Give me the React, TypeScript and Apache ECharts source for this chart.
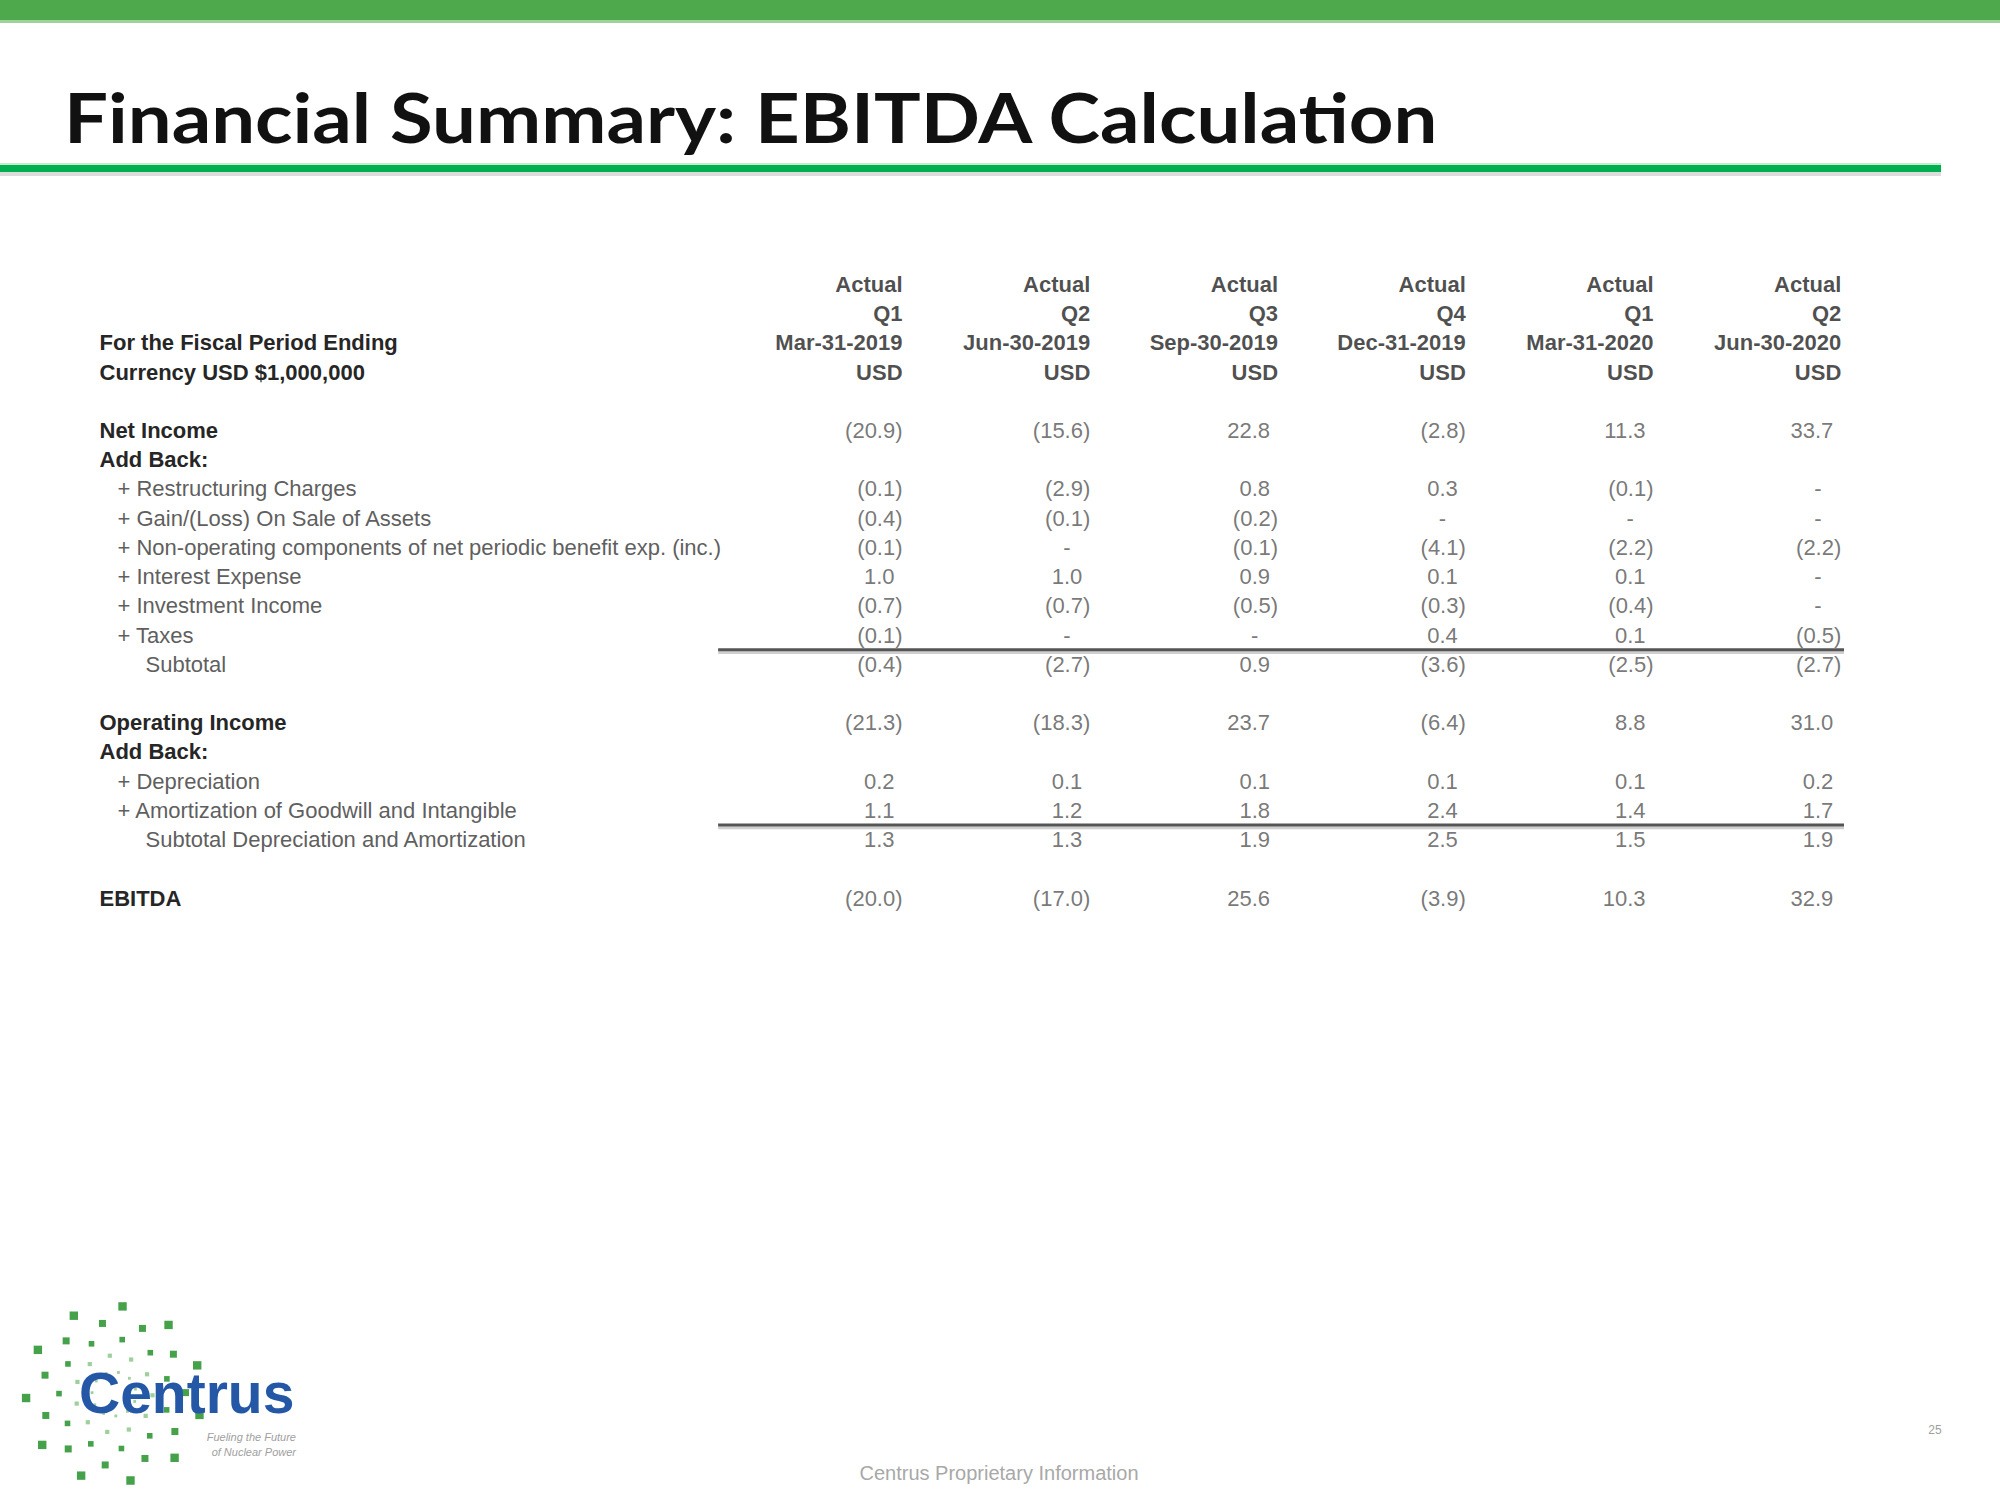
import React, { useEffect, useRef } from 'react';
import * as echarts from 'echarts';

// ---------- data ----------
const periodTypes = ['Actual', 'Actual', 'Actual', 'Actual', 'Actual', 'Actual'];
const quarters = ['Q1', 'Q2', 'Q3', 'Q4', 'Q1', 'Q2'];
const periodEndDates = ['Mar-31-2019', 'Jun-30-2019', 'Sep-30-2019', 'Dec-31-2019', 'Mar-31-2020', 'Jun-30-2020'];
const currencies = ['USD', 'USD', 'USD', 'USD', 'USD', 'USD'];

const rowLabels = [
  '', '', 'For the Fiscal Period Ending', 'Currency USD $1,000,000', '',
  'Net Income', 'Add Back:',
  '+ Restructuring Charges',
  '+ Gain/(Loss) On Sale of Assets',
  '+ Non-operating components of net periodic benefit exp. (inc.)',
  '+ Interest Expense',
  '+ Investment Income',
  '+ Taxes',
  'Subtotal', '',
  'Operating Income', 'Add Back:',
  '+ Depreciation',
  '+ Amortization of Goodwill and Intangible',
  'Subtotal Depreciation and Amortization', '',
  'EBITDA',
];
const rowKinds = ['', '', 'b', 'b', '', 'b', 'b', 'i', 'i', 'i', 'i', 'i', 'i', 's', '', 'b', 'b', 'i', 'i', 's', '', 'b'];

const netIncome = [-20.9, -15.6, 22.8, -2.8, 11.3, 33.7];
const restructuringCharges = [-0.1, -2.9, 0.8, 0.3, -0.1, null];
const gainLossOnSale = [-0.4, -0.1, -0.2, null, null, null];
const nonOperatingBenefit = [-0.1, null, -0.1, -4.1, -2.2, -2.2];
const interestExpense = [1.0, 1.0, 0.9, 0.1, 0.1, null];
const investmentIncome = [-0.7, -0.7, -0.5, -0.3, -0.4, null];
const taxes = [-0.1, null, null, 0.4, 0.1, -0.5];
const addBackSubtotal = [-0.4, -2.7, 0.9, -3.6, -2.5, -2.7];
const operatingIncome = [-21.3, -18.3, 23.7, -6.4, 8.8, 31.0];
const depreciation = [0.2, 0.1, 0.1, 0.1, 0.1, 0.2];
const amortization = [1.1, 1.2, 1.8, 2.4, 1.4, 1.7];
const subtotalDA = [1.3, 1.3, 1.9, 2.5, 1.5, 1.9];
const ebitda = [-20.0, -17.0, 25.6, -3.9, 10.3, 32.9];

const valueRows: [number, (number | null)[]][] = [
  [5, netIncome],
  [7, restructuringCharges],
  [8, gainLossOnSale],
  [9, nonOperatingBenefit],
  [10, interestExpense],
  [11, investmentIncome],
  [12, taxes],
  [13, addBackSubtotal],
  [15, operatingIncome],
  [17, depreciation],
  [18, amortization],
  [19, subtotalDA],
  [21, ebitda],
];
const headerRows: [number, string[]][] = [
  [0, periodTypes],
  [1, quarters],
  [2, periodEndDates],
  [3, currencies],
];
const ruleRows = [12.5, 18.5];

// ---------- styles ----------
const FONT = "'Liberation Sans', Arial, sans-serif";
const FS = 22;

function fmt(v: number | null): string {
  if (v === null) return '-';
  if (v < 0) return '(' + Math.abs(v).toFixed(1) + ')';
  return v.toFixed(1);
}

export default function App() {
  const ref = useRef<HTMLDivElement>(null);
  useEffect(() => {
    if (!ref.current) return;
    const chart = echarts.init(ref.current, undefined, { renderer: 'svg' });

    const numberData: any[] = [];
    valueRows.forEach(([row, vals]) => {
      vals.forEach((v, col) => {
        let label: any;
        if (v === null) label = { position: 'inside', align: 'center', offset: [-24, 0] };
        else if (v >= 0) label = { position: 'left', distance: 0, offset: [-8, 0] };
        else label = { position: 'left', distance: 0 };
        numberData.push({ value: [col, row, v], label });
      });
    });
    const headerData: any[] = [];
    headerRows.forEach(([row, vals]) => {
      vals.forEach((s, col) => headerData.push({ value: [col, row], name: s }));
    });

    const ruleSeries: any[] = [];
    ruleRows.forEach((r) => {
      ruleSeries.push({
        type: 'line', silent: true, clip: false, symbol: 'none',
        data: [[-0.985, r + 0.1], [5.02, r + 0.1]],
        lineStyle: { color: '#cfcfcf', width: 3 }, z: 1,
      });
      ruleSeries.push({
        type: 'line', silent: true, clip: false, symbol: 'none',
        data: [[-0.985, r], [5.02, r]],
        lineStyle: { color: '#555555', width: 3 }, z: 2,
      });
    });

    // logo dots (decorative)
    const dots: any[] = [];
    const cx = 114, cy = 1394;
    for (let k = 0; k < 11; k++) {
      for (let j = 0; j < 5; j++) {
        const r = 22 + j * 16.5;
        const ang = (k * (360 / 11) + r * 0.9) * Math.PI / 180;
        const sz = 1.4 + j * 0.7;
        dots.push({
          type: 'rect',
          shape: { x: cx + r * Math.cos(ang) - sz, y: cy + r * Math.sin(ang) - sz, width: sz * 2, height: sz * 2 },
          style: { fill: j > 1 ? '#45A24B' : '#9DD09B' },
          z: 1,
        });
      }
    }

    chart.setOption({
      animation: false,
      backgroundColor: '#ffffff',
      grid: { left: 715.3, right: 158.2, top: 284.4, bottom: 602, containLabel: false },
      xAxis: { type: 'value', min: -1, max: 5, show: false },
      yAxis: {
        type: 'value', inverse: true, min: 0, max: 21, interval: 1,
        axisLine: { show: false }, axisTick: { show: false }, splitLine: { show: false },
        axisLabel: {
          show: true, align: 'left', margin: 615.8, showMinLabel: true, showMaxLabel: true,
          hideOverlap: false,
          formatter: (v: number) => {
            const i = Math.round(v);
            const kind = rowKinds[i];
            if (!kind || !rowLabels[i]) return '';
            return '{' + kind + '|' + rowLabels[i] + '}';
          },
          rich: {
            b: { fontFamily: FONT, fontSize: FS, fontWeight: 'bold', color: '#262626' },
            i: { fontFamily: FONT, fontSize: FS, color: '#5f5f5f', padding: [0, 0, 0, 18] },
            s: { fontFamily: FONT, fontSize: FS, color: '#5f5f5f', padding: [0, 0, 0, 46] },
          },
        },
      },
      series: [
        {
          type: 'scatter', symbolSize: 1, itemStyle: { color: 'rgba(0,0,0,0)' }, silent: true,
          data: headerData,
          label: {
            show: true, position: 'left', distance: 0,
            formatter: (p: any) => p.name,
            fontFamily: FONT, fontSize: FS, fontWeight: 'bold', color: '#1f1f1f',
          },
        },
        {
          type: 'scatter', symbolSize: 1, itemStyle: { color: 'rgba(0,0,0,0)' }, silent: true,
          data: numberData,
          label: {
            show: true,
            formatter: (p: any) => fmt(p.value[2]),
            fontFamily: FONT, fontSize: FS, color: '#555555',
          },
        },
        ...ruleSeries,
      ],
      graphic: [
        { type: 'rect', shape: { x: 0, y: 0, width: 2000, height: 20 }, style: { fill: '#4DA94B' } },
        { type: 'rect', shape: { x: 0, y: 20, width: 2000, height: 3 }, style: { fill: '#9ED29A' } },
        {
          type: 'text', x: 64, y: 117, scaleX: 1.145,
          style: {
            text: 'Financial Summary: EBITDA Calculation',
            font: "bold 68px Lato, 'Liberation Sans', sans-serif",
            fill: '#111111', verticalAlign: 'middle', align: 'left',
          },
        },
        { type: 'rect', shape: { x: 0, y: 163, width: 1941, height: 2 }, style: { fill: '#c4ebcf' } },
        { type: 'rect', shape: { x: 0, y: 165, width: 1941, height: 7 }, style: { fill: '#00B050' } },
        { type: 'rect', shape: { x: 0, y: 172, width: 1941, height: 4 }, style: { fill: '#dcdcdc' } },
        ...dots,
        {
          type: 'text', x: 79, y: 1393, z: 5,
          style: {
            text: 'Centrus', font: "bold 57px 'Liberation Sans', Arial, sans-serif",
            fill: '#2458A6', verticalAlign: 'middle', align: 'left',
          },
        },
        {
          type: 'text', x: 296, y: 1437, z: 5,
          style: { text: 'Fueling the Future', font: "italic 11px 'Liberation Sans', sans-serif", fill: '#a0a0a0', align: 'right', verticalAlign: 'middle' },
        },
        {
          type: 'text', x: 296, y: 1452, z: 5,
          style: { text: 'of Nuclear Power', font: "italic 11px 'Liberation Sans', sans-serif", fill: '#a0a0a0', align: 'right', verticalAlign: 'middle' },
        },
        {
          type: 'text', x: 999, y: 1473,
          style: { text: 'Centrus Proprietary Information', font: "20px 'Liberation Sans', sans-serif", fill: '#a8a8a8', align: 'center', verticalAlign: 'middle' },
        },
        {
          type: 'text', x: 1935, y: 1430,
          style: { text: '25', font: "12px 'Liberation Sans', sans-serif", fill: '#a0a0a0', align: 'center', verticalAlign: 'middle' },
        },
      ],
    });
    return () => chart.dispose();
  }, []);
  return <div ref={ref} style={{ position: 'absolute', left: 0, top: 0, width: 2000, height: 1500 }} />;
}
